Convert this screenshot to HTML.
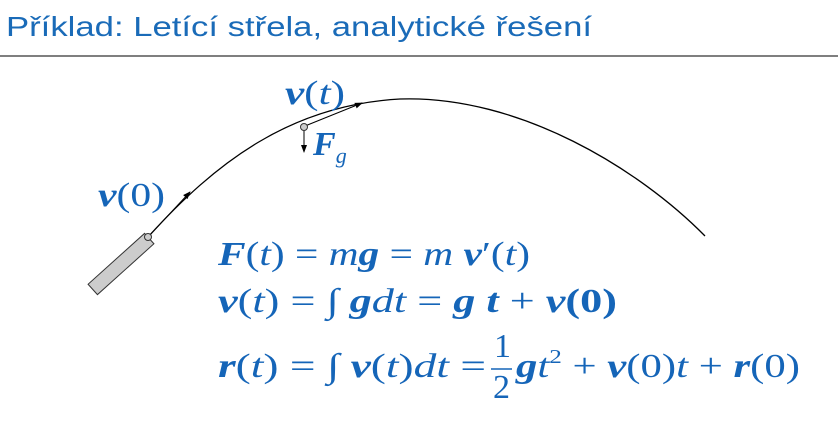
<!DOCTYPE html>
<html><head><meta charset="utf-8"><style>
html,body{margin:0;padding:0;background:#fff;width:838px;height:443px;overflow:hidden}
svg{display:block}
.t{font-family:"Liberation Sans",sans-serif;font-size:28px;fill:#1a6bb8}
.m{font-family:"Liberation Serif",serif;font-size:34px;fill:#1565b8;font-style:italic}
.b{font-weight:bold}
.n{font-style:normal}
</style></head><body>
<svg width="838" height="443" viewBox="0 0 838 443">
<defs><marker id="ah" markerWidth="8" markerHeight="8" refX="7" refY="4" orient="auto" markerUnits="userSpaceOnUse"><path d="M0,1 L8,4 L0,7 Z" fill="#000"/></marker></defs>
<text class="t" x="6" y="36" textLength="586" lengthAdjust="spacingAndGlyphs">Příklad: Letící střela, analytické řešení</text>
<line x1="0" y1="56" x2="838" y2="56" stroke="#333" stroke-width="1.2"/>
<path d="M148,237 C215,163 290,105 400,99 C520,95 640,170 705,236" fill="none" stroke="#000" stroke-width="1.3"/>
<rect x="-7" y="-38" width="14" height="76" fill="#ccc" stroke="#333" stroke-width="1" transform="translate(121,264) rotate(48)"/>
<line x1="149" y1="236" x2="190" y2="192" stroke="#000" stroke-width="1" marker-end="url(#ah)"/>
<circle cx="148" cy="237" r="3.5" fill="#ccc" stroke="#333"/>
<line x1="305" y1="126" x2="362" y2="103" stroke="#000" stroke-width="1" marker-end="url(#ah)"/>
<line x1="304" y1="130" x2="304" y2="152" stroke="#000" stroke-width="1" marker-end="url(#ah)"/>
<circle cx="304" cy="127" r="3.5" fill="#ccc" stroke="#333"/>
<text class="m" x="285" y="104" textLength="60" lengthAdjust="spacingAndGlyphs"><tspan class="b">v</tspan><tspan class="n">(</tspan>t<tspan class="n">)</tspan></text>
<text class="m" x="313" y="155"><tspan class="b">F</tspan><tspan font-size="22" dy="8">g</tspan></text>
<text class="m" x="98" y="206" textLength="67" lengthAdjust="spacingAndGlyphs"><tspan class="b">v</tspan><tspan class="n">(0)</tspan></text>
<text class="m" x="218" y="265" textLength="312" lengthAdjust="spacingAndGlyphs"><tspan class="b">F</tspan><tspan class="n">(</tspan>t<tspan class="n">) = </tspan>m<tspan class="b">g</tspan><tspan class="n"> = </tspan>m <tspan class="b">v</tspan><tspan class="n">′(</tspan>t<tspan class="n">)</tspan></text>
<text class="m" x="218" y="312" textLength="399" lengthAdjust="spacingAndGlyphs"><tspan class="b">v</tspan><tspan class="n">(</tspan>t<tspan class="n">) = ∫ </tspan><tspan class="b">g</tspan>dt <tspan class="n"> = </tspan><tspan class="b">g t</tspan><tspan class="n"> + </tspan><tspan class="b">v</tspan><tspan class="n b">(0)</tspan></text>
<text class="m" x="218" y="377" textLength="268" lengthAdjust="spacingAndGlyphs"><tspan class="b">r</tspan><tspan class="n">(</tspan>t<tspan class="n">) = ∫ </tspan><tspan class="b">v</tspan><tspan class="n">(</tspan>t<tspan class="n">)</tspan>dt<tspan class="n"> =</tspan></text>
<text class="m n" x="494" y="357">1</text>
<line x1="491" y1="369" x2="512" y2="369" stroke="#1565b8" stroke-width="1.6"/>
<text class="m n" x="493" y="398">2</text>
<text class="m" x="516" y="377" textLength="284" lengthAdjust="spacingAndGlyphs"><tspan class="b">g</tspan>t<tspan class="n" font-size="20" dy="-14">2</tspan><tspan class="n" dy="14"> + </tspan><tspan class="b">v</tspan><tspan class="n">(0)</tspan>t<tspan class="n"> + </tspan><tspan class="b">r</tspan><tspan class="n">(0)</tspan></text>
</svg>
</body></html>
